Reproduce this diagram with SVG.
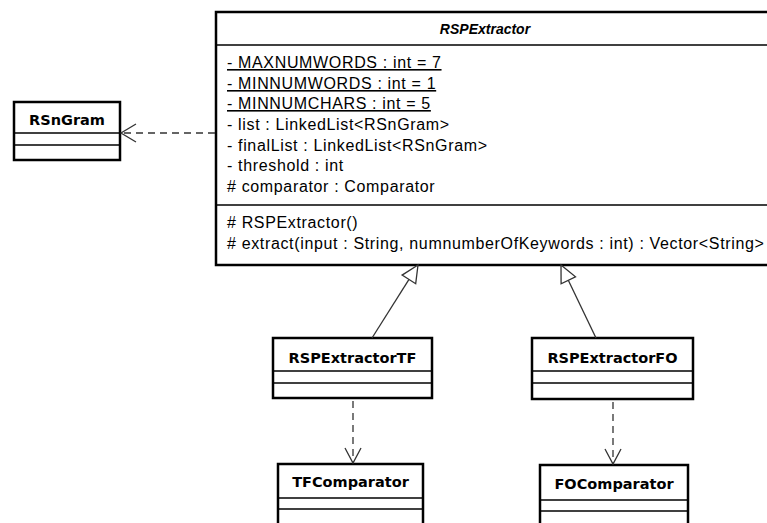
<svg xmlns="http://www.w3.org/2000/svg" width="767" height="523" viewBox="0 0 767 523">
<style>
.box{fill:#fff;stroke:#000;stroke-width:2.5}
.sep{stroke:#000;stroke-width:1.5}
.t{font-family:"Liberation Sans",Arial,sans-serif;font-size:16px;letter-spacing:0.65px;fill:#000}
.u{text-decoration:underline}
.bt{font-family:"DejaVu Sans",Verdana,sans-serif;font-weight:bold;font-size:14.5px;fill:#000;text-anchor:middle}
.mt{font-family:"Liberation Sans",Arial,sans-serif;font-weight:bold;font-style:italic;font-size:14px;fill:#000;text-anchor:middle}
.ln{fill:none;stroke:#333;stroke-width:1.3}
.dash{stroke-dasharray:7 5}
.tri{fill:#fff;stroke:#333;stroke-width:1.3}
</style>
<rect width="767" height="523" fill="#fff"/>
<g id="RSPExtractor">
<rect class="box" x="216" y="12" width="570" height="253"/>
<line class="sep" x1="216" y1="45" x2="786" y2="45"/>
<line class="sep" x1="216" y1="205" x2="786" y2="205"/>
<text class="mt" x="485" y="34">RSPExtractor</text>
<text class="t u" x="227" y="68">- MAXNUMWORDS : int = 7</text>
<text class="t u" x="227" y="89">- MINNUMWORDS : int = 1</text>
<text class="t u" x="227" y="109">- MINNUMCHARS : int = 5</text>
<text class="t" x="227" y="130">- list : LinkedList&lt;RSnGram&gt;</text>
<text class="t" x="227" y="151">- finalList : LinkedList&lt;RSnGram&gt;</text>
<text class="t" x="227" y="171">- threshold : int</text>
<text class="t" x="227" y="192"># comparator : Comparator</text>
<text class="t" x="227" y="228"># RSPExtractor()</text>
<text class="t" x="227" y="249"># extract(input : String, numnumberOfKeywords : int) : Vector&lt;String&gt;</text>
</g>
<g id="RSnGram">
<rect class="box" x="14" y="102" width="106" height="58"/>
<line class="sep" x1="14" y1="133" x2="120" y2="133"/>
<line class="sep" x1="14" y1="145" x2="120" y2="145"/>
<text class="bt" x="67" y="125">RSnGram</text>
</g>
<g id="RSPExtractorTF">
<rect class="box" x="273" y="338" width="159" height="60"/>
<line class="sep" x1="273" y1="371" x2="432" y2="371"/>
<line class="sep" x1="273" y1="383" x2="432" y2="383"/>
<text class="bt" x="352.5" y="363">RSPExtractorTF</text>
</g>
<g id="RSPExtractorFO">
<rect class="box" x="532" y="338" width="161" height="61"/>
<line class="sep" x1="532" y1="371" x2="693" y2="371"/>
<line class="sep" x1="532" y1="383" x2="693" y2="383"/>
<text class="bt" x="612.5" y="363">RSPExtractorFO</text>
</g>
<g id="TFComparator">
<rect class="box" x="278" y="464" width="145" height="70"/>
<line class="sep" x1="278" y1="498" x2="423" y2="498"/>
<line class="sep" x1="278" y1="509" x2="423" y2="509"/>
<text class="bt" x="350.5" y="487">TFComparator</text>
</g>
<g id="FOComparator">
<rect class="box" x="540" y="465" width="148" height="70"/>
<line class="sep" x1="540" y1="500" x2="688" y2="500"/>
<line class="sep" x1="540" y1="511" x2="688" y2="511"/>
<text class="bt" x="614" y="489">FOComparator</text>
</g>
<g id="connectors">
<line class="ln dash" x1="215" y1="133" x2="122" y2="133"/>
<polyline class="ln" points="136,124 121,133 136,142"/>
<line class="ln" x1="372" y1="338" x2="409" y2="279.4"/>
<polygon class="tri" points="418,265 415.7,283.7 402.1,275.1"/>
<line class="ln" x1="596" y1="338" x2="568.3" y2="280.3"/>
<polygon class="tri" points="561,265 575.5,276.8 561.1,283.8"/>
<line class="ln dash" x1="353" y1="401" x2="353" y2="462"/>
<polyline class="ln" points="345,448 353,463 361,448"/>
<line class="ln dash" x1="613" y1="402" x2="613" y2="463"/>
<polyline class="ln" points="605,449 613,464 621,449"/>
</g>
</svg>
